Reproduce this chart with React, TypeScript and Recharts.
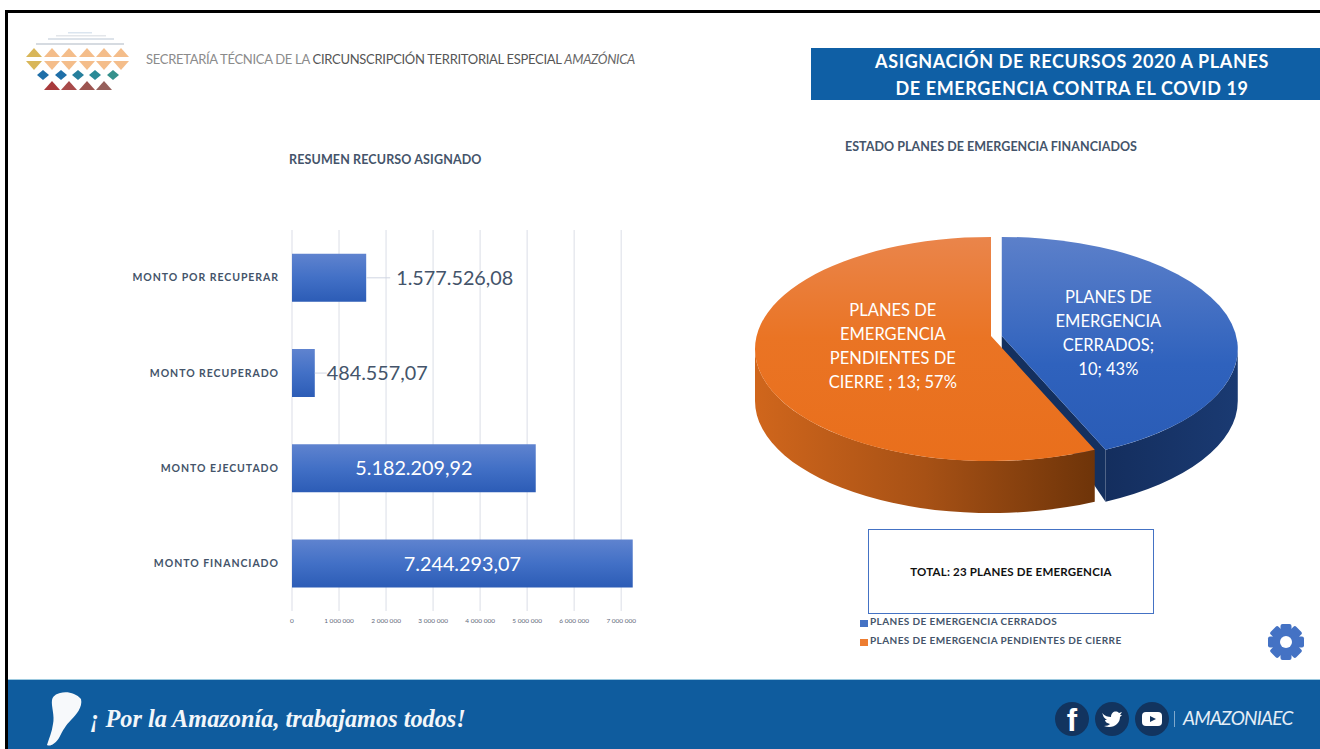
import React from "react"
import {
  Bar,
  BarChart,
  CartesianGrid,
  LabelList,
  Legend,
  Pie,
  PieChart,
  XAxis,
  YAxis,
} from "recharts"

const montoCategories = ["MONTO POR RECUPERAR", "MONTO RECUPERADO", "MONTO EJECUTADO", "MONTO FINANCIADO"]
const montoValues = [1577526.08, 484557.07, 5182209.92, 7244293.07]
const montoTicks = [0, 1000000, 2000000, 3000000, 4000000, 5000000, 6000000, 7000000]
const montoTickLabels = ["0", "1 000 000", "2 000 000", "3 000 000", "4 000 000", "5 000 000", "6 000 000", "7 000 000"]

const planNames = ["PLANES DE EMERGENCIA CERRADOS", "PLANES DE EMERGENCIA PENDIENTES DE CIERRE"]
const planValues = [10, 13]
const planLabelLines = [
  ["PLANES DE", "EMERGENCIA", "CERRADOS;", "10; 43%"],
  ["PLANES DE", "EMERGENCIA", "PENDIENTES DE", "CIERRE ; 13; 57%"],
]
const planColors = ["#4472c4", "#ed7d31"]

const montoData = montoCategories.map((name, i) => ({ name, value: montoValues[i] }))
const planData = planNames.map((name, i) => ({
  name,
  value: planValues[i],
  fill: planColors[i],
}))

const FONT = "Lato, 'Open Sans', sans-serif"
const SLATE = "#44546a"
const TILT = 0.475
const DEPTH = 52
const APEX_DEPTH = 13
const APEX_LIFT = 13
const EXPLODE = 11
const SEAM_SHIFT = 2.6

const toRad = (deg: number) => (deg * Math.PI) / 180

function formatMonto(v: number) {
  return v.toLocaleString("de-DE", { minimumFractionDigits: 2, maximumFractionDigits: 2 })
}

// fake perspective: seams near the viewer slide a little towards the right
function warp(deg: number) {
  return deg + (SEAM_SHIFT * (1 - Math.sin(toRad(deg)))) / 1.917
}

// elliptical wedge with its side wall, angles come from the Pie layout
function TiltedSlice(props: any) {
  const { cx, cy, outerRadius, startAngle, endAngle, index } = props
  const blue = index === 0
  const mid = toRad((startAngle + endAngle) / 2)
  const ox = cx + (blue ? EXPLODE * Math.cos(mid) : 0)
  const oy = cy
  const rx = outerRadius
  const ry = outerRadius * TILT
  const pt = (deg: number) => ({
    x: ox + rx * Math.cos(toRad(deg)),
    y: oy - ry * Math.sin(toRad(deg)),
  })
  const a = pt(warp(startAngle))
  const b = pt(warp(endAngle))
  const apexY = oy - APEX_LIFT
  const large = Math.abs(startAngle - endAngle) > 180 ? 1 : 0
  const face = `M${ox},${apexY} L${a.x},${a.y} A${rx},${ry} 0 ${large} 1 ${b.x},${b.y} Z`

  // only the front half of the rim shows
  const seam = blue ? b : a
  const rimA = blue ? pt(0) : seam
  const rimB = blue ? seam : pt(-180)
  const wall = `M${rimA.x},${rimA.y} A${rx},${ry} 0 0 1 ${rimB.x},${rimB.y} L${rimB.x},${rimB.y + DEPTH} A${rx},${ry} 0 0 0 ${rimA.x},${rimA.y + DEPTH} Z`
  const cutWall = `M${ox},${apexY} L${seam.x},${seam.y} L${seam.x},${seam.y + DEPTH} L${ox},${apexY + APEX_DEPTH} Z`

  return (
    <g>
      {blue && <path d={cutWall} fill="#14305f" />}
      <path d={wall} fill={blue ? "url(#blueWall)" : "url(#orangeWall)"} />
      <path d={face} fill={blue ? "url(#blueFace)" : "url(#orangeFace)"} />
    </g>
  )
}

function SliceLabel(props: any) {
  const { cx, cy, outerRadius, midAngle, index } = props
  const reach = index === 0 ? 0.508 : 0.425
  const x = cx + outerRadius * reach * Math.cos(toRad(midAngle))
  const y = cy - outerRadius * TILT * reach * Math.sin(toRad(midAngle)) + (index === 0 ? -4 : -13)
  return (
    <text x={x} y={y - 30} fill="#fff" textAnchor="middle" fontFamily={FONT} fontSize={16.5}>
      {planLabelLines[index].map((line, i) => (
        <tspan key={line} x={x} dy={i === 0 ? 0 : 24}>
          {line}
        </tspan>
      ))}
    </text>
  )
}

function MontoLabel(props: any) {
  const { x, y, width, height, value } = props
  const midY = y + height / 2
  const right = x + width
  if (width > 120) {
    return (
      <text x={x + width / 2} y={midY + 7} fill="#fff" textAnchor="middle" fontFamily={FONT} fontSize={19.8}>
        {formatMonto(value)}
      </text>
    )
  }
  const lead = value > 1000000 ? 24 : 12
  return (
    <g>
      <line x1={right} x2={right + lead} y1={midY} y2={midY} stroke="#cfd5e2" strokeWidth={1} />
      <text x={right + lead + (value > 1000000 ? 6 : 0)} y={midY + 7} fill={SLATE} fontFamily={FONT} fontSize={19.8}>
        {formatMonto(value)}
      </text>
    </g>
  )
}

function PlanLegend({ payload }: any) {
  return (
    <div style={{ fontFamily: FONT }}>
      {(payload ?? []).map((item: any) => (
        <div key={item.value} style={{ display: "flex", alignItems: "center", height: 19, color: SLATE, fontSize: 10, fontWeight: 700, letterSpacing: 0.4, whiteSpace: "nowrap" }}>
          <span style={{ width: 8, height: 7, marginRight: 2, marginTop: 5, background: item.color, flex: "none" }} />
          {item.value}
        </div>
      ))}
    </div>
  )
}

function Logo() {
  const peach = "#f4bd8a"
  const upCenters = [34, 52, 69, 87, 104, 121]
  const diamonds = [
    [43, "#1f6fa8"],
    [61, "#1f6fa8"],
    [78, "#267f9c"],
    [95, "#2a8a96"],
    [113, "#35918c"],
  ] as const
  const reds = [
    [52, "#a83a3c"],
    [69, "#a84a4a"],
    [87, "#9c5450"],
    [104, "#96605c"],
  ] as const
  return (
    <svg width={140} height={100} style={{ position: "absolute", left: 0, top: 0 }}>
      <rect x={68} y={32} width={24} height={1.5} fill="#dbe5ef" />
      <rect x={56} y={35} width={50} height={1.5} fill="#e3e6ea" />
      <rect x={48} y={38} width={66} height={2} fill="#dde3ea" />
      <rect x={36} y={43} width={88} height={2} fill="#d6dbe1" />
      {upCenters.map((c, i) => (
        <polygon key={c} points={`${c - 8},57 ${c + 8},57 ${c},48`} fill={i === 0 ? "#d8b659" : peach} />
      ))}
      {upCenters.map((c, i) => (
        <polygon key={c} points={`${c - 8},61 ${c + 8},61 ${c},70`} fill={i === 0 ? "#d8b659" : peach} />
      ))}
      {diamonds.map(([c, color]) => (
        <polygon key={c} points={`${c - 6},75 ${c},70 ${c + 6},75 ${c},80`} fill={color} />
      ))}
      {reds.map(([c, color]) => (
        <polygon key={c} points={`${c - 8},90 ${c + 8},90 ${c},81`} fill={color} />
      ))}
    </svg>
  )
}

function FooterIcons() {
  return (
    <svg width={1320} height={69} style={{ position: "absolute", left: 0, top: 0 }}>
      <path
        d="M60,13 C67,11 76,13 81,19 C83,27 76,35 71,40 C66,45 63,50 59,58 C55,64 50,67 47,65 C49,58 52,52 53,44 C55,36 51,26 52,20 C53,16 56,14 60,13 Z"
        fill="#f7f9fb"
      />
      <circle cx={1072} cy={39} r={17} fill="#12345f" />
      <circle cx={1112} cy={39} r={17} fill="#12345f" />
      <circle cx={1152} cy={39} r={17} fill="#12345f" />
      <text x={1072} y={51} textAnchor="middle" fill="#fff" fontFamily="Liberation Sans" fontWeight={700} fontSize={31}>
        f
      </text>
      <path
        d="M1102,33 C1105,36 1108,37 1111,37 C1111,32 1116,30 1119,33 L1122,32 L1120,35 L1122,35 L1120,37 C1120,44 1113,49 1104,46 C1107,46 1109,45 1110,44 C1107,43 1105,42 1105,40 L1107,40 C1104,38 1103,36 1103,35 Z"
        fill="#fff"
      />
      <rect x={1142} y={32} width={20} height={14} rx={4} fill="#fff" />
      <polygon points="1150,36 1156,39 1150,42" fill="#12345f" />
      <rect x={1174} y={31} width={1} height={16} fill="#7fa8cc" />
      <text x={1183} y={45} fill="#e4eef7" fontFamily={FONT} fontStyle="italic" fontSize={19} letterSpacing={-0.75}>
        AMAZONIAEC
      </text>
    </svg>
  )
}

function Gear() {
  const teeth = [0, 45, 90, 135]
  return (
    <svg width={40} height={40} style={{ position: "absolute", left: 1266, top: 622 }}>
      {teeth.map((t) => (
        <rect key={t} x={14.5} y={2} width={11} height={36} rx={2} fill="#4472c4" transform={`rotate(${t} 20 20)`} />
      ))}
      <circle cx={20} cy={20} r={14} fill="#4472c4" />
      <circle cx={20} cy={20} r={6} fill="#fff" />
    </svg>
  )
}

export default function App() {
  return (
    <div style={{ position: "absolute", left: 0, top: 0, width: 1320, height: 749, overflow: "hidden", background: "#fff", fontFamily: FONT }}>
      <div style={{ position: "absolute", left: 5, top: 10, width: 1315, height: 3, background: "#000" }} />
      <div style={{ position: "absolute", left: 5, top: 10, width: 3, height: 739, background: "#000" }} />

      <Logo />
      <div style={{ position: "absolute", left: 146, top: 51, width: 495, fontSize: 13, letterSpacing: -0.3, color: "#8b8b8b", whiteSpace: "nowrap" }}>
        SECRETARÍA TÉCNICA DE LA <span style={{ color: "#555" }}>CIRCUNSCRIPCIÓN TERRITORIAL ESPECIAL </span>
        <span style={{ fontStyle: "italic", color: "#666" }}>AMAZÓNICA</span>
      </div>

      <div style={{ position: "absolute", left: 811, top: 48, width: 509, height: 52, background: "#0f5fa5", color: "#fff", textAlign: "center", fontWeight: 700, fontSize: 18, lineHeight: "27px", letterSpacing: 0.63 }}>
        <div style={{ marginLeft: 13 }}>ASIGNACIÓN DE RECURSOS 2020 A PLANES</div>
        <div style={{ marginLeft: 13 }}>DE EMERGENCIA CONTRA EL COVID 19</div>
      </div>

      <div style={{ position: "absolute", left: 289, top: 152, fontSize: 12.5, fontWeight: 700, letterSpacing: 0.13, color: SLATE, whiteSpace: "nowrap" }}>
        RESUMEN RECURSO ASIGNADO
      </div>
      <div style={{ position: "absolute", left: 845, top: 139, fontSize: 12.5, fontWeight: 700, letterSpacing: 0.04, color: SLATE, whiteSpace: "nowrap" }}>
        ESTADO PLANES DE EMERGENCIA FINANCIADOS
      </div>

      <div style={{ position: "absolute", left: 0, top: 220 }}>
        <BarChart width={660} height={420} layout="vertical" data={montoData} margin={{ top: 10, right: 27, bottom: 0, left: 0 }} barCategoryGap="25%">
          <defs>
            <linearGradient id="barFill" x1="0" y1="0" x2="0" y2="1">
              <stop offset="0%" stopColor="#5f83cf" />
              <stop offset="50%" stopColor="#4270c6" />
              <stop offset="100%" stopColor="#2c5cb6" />
            </linearGradient>
          </defs>
          <CartesianGrid horizontal={false} stroke="#e7e9ef" strokeWidth={1.5} verticalValues={montoTicks} />
          <XAxis
            type="number"
            domain={[0, 7250000]}
            ticks={montoTicks}
            interval={0}
            axisLine={false}
            tickLine={false}
            height={29}
            tickMargin={1}
            tick={{ fontSize: 6.5, fill: "#5f6a7c", fontFamily: FONT }}
            tickFormatter={(v: number) => montoTickLabels[montoTicks.indexOf(v)]}
          />
          <YAxis
            type="category"
            dataKey="name"
            width={292}
            axisLine={false}
            tickLine={false}
            tickMargin={7}
            interval={0}
            tick={{ fontSize: 10.5, fontWeight: 700, fill: SLATE, fontFamily: FONT, letterSpacing: 0.95 }}
          />
          <Bar dataKey="value" fill="url(#barFill)" isAnimationActive={false}>
            <LabelList dataKey="value" content={<MontoLabel />} />
          </Bar>
        </BarChart>
      </div>

      <div style={{ position: "absolute", left: 740, top: 220 }}>
        <PieChart width={510} height={440} margin={{ top: 0, right: 0, bottom: 0, left: 0 }}>
          <defs>
            <linearGradient id="blueFace" x1="0" y1="0" x2="0" y2="1">
              <stop offset="0%" stopColor="#5c80ca" />
              <stop offset="60%" stopColor="#2f62bd" />
              <stop offset="100%" stopColor="#2a5cb6" />
            </linearGradient>
            <linearGradient id="orangeFace" x1="0" y1="0" x2="0" y2="1">
              <stop offset="0%" stopColor="#ea854b" />
              <stop offset="45%" stopColor="#ea7424" />
              <stop offset="100%" stopColor="#e96f1c" />
            </linearGradient>
            <linearGradient id="blueWall" x1="0" y1="0" x2="1" y2="0">
              <stop offset="0%" stopColor="#142e5e" />
              <stop offset="100%" stopColor="#1a3a72" />
            </linearGradient>
            <linearGradient id="orangeWall" x1="0" y1="0" x2="1" y2="0">
              <stop offset="0%" stopColor="#d0661c" />
              <stop offset="50%" stopColor="#a75115" />
              <stop offset="100%" stopColor="#6e3409" />
            </linearGradient>
          </defs>
          <Pie
            data={planData}
            dataKey="value"
            nameKey="name"
            cx={251}
            cy={129}
            outerRadius={236}
            startAngle={90}
            endAngle={-270}
            stroke="none"
            shape={<TiltedSlice />}
            inactiveShape={<TiltedSlice />}
            activeShape={<TiltedSlice />}
            label={<SliceLabel />}
            labelLine={false}
            isAnimationActive={false}
          />
          <Legend
            layout="horizontal"
            align="left"
            verticalAlign="bottom"
            wrapperStyle={{ position: "absolute", left: 120, top: 391, bottom: "auto", width: 340 }}
            content={<PlanLegend />}
          />
        </PieChart>
      </div>

      <div style={{ position: "absolute", left: 868, top: 529, width: 284, height: 83, border: "1px solid #4472c4", display: "flex", alignItems: "center", justifyContent: "center", fontSize: 11.5, fontWeight: 700, color: "#111", letterSpacing: 0.2 }}>
        TOTAL: 23 PLANES DE EMERGENCIA
      </div>

      <Gear />

      <div style={{ position: "absolute", left: 8, top: 679, width: 1312, height: 2, background: "#9cc9df" }} />
      <div style={{ position: "absolute", left: 8, top: 680, width: 1312, height: 69, background: "#0f5c9e" }}>
        <div style={{ position: "absolute", left: -8, top: 0 }}>
          <FooterIcons />
        </div>
        <div style={{ position: "absolute", left: 82, top: 25, fontFamily: "'Liberation Serif', serif", fontStyle: "italic", fontWeight: 700, fontSize: 24.3, color: "#f2f6fa", whiteSpace: "nowrap" }}>
          ¡ Por la Amazonía, trabajamos todos!
        </div>
      </div>
    </div>
  )
}
